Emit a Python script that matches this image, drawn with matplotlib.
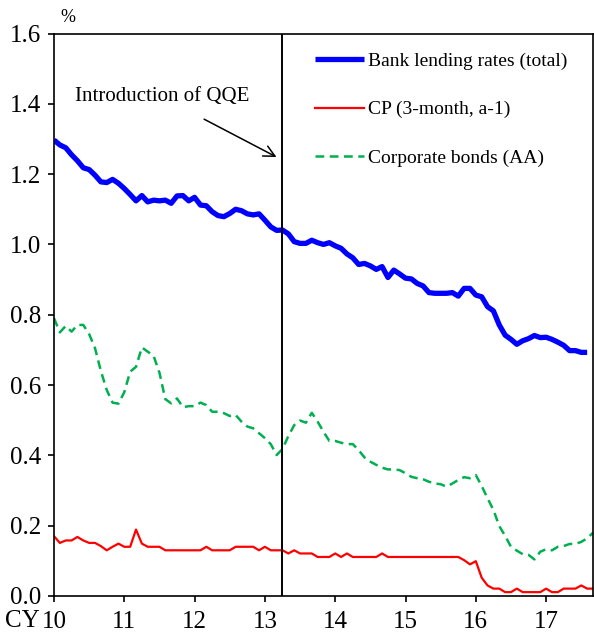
import matplotlib
matplotlib.use("Agg")
import matplotlib.pyplot as plt
import numpy as np

plt.rcParams["font.family"] = ["Liberation Serif", "DejaVu Serif"]

# monthly data, Jan 2010 onward (CY 10.0 = Jan 2010)
bank_lending = [
    1.297, 1.283, 1.275, 1.255, 1.238, 1.218, 1.213, 1.197, 1.178, 1.176,
    1.185, 1.174, 1.159, 1.142, 1.124, 1.139, 1.121, 1.126, 1.124, 1.126,
    1.117, 1.138, 1.139, 1.124, 1.134, 1.112, 1.110, 1.093, 1.082, 1.079,
    1.088, 1.100, 1.096, 1.087, 1.084, 1.087, 1.069, 1.050, 1.040, 1.041,
    1.030, 1.008, 1.003, 1.003, 1.012, 1.005, 1.000, 1.005, 0.996, 0.989,
    0.973, 0.962, 0.943, 0.946, 0.939, 0.929, 0.937, 0.906, 0.927, 0.916,
    0.904, 0.902, 0.889, 0.882, 0.863, 0.861, 0.861, 0.861, 0.863, 0.853,
    0.875, 0.875, 0.856, 0.851, 0.823, 0.811, 0.771, 0.742, 0.730, 0.716,
    0.726, 0.732, 0.741, 0.735, 0.736, 0.730, 0.722, 0.713, 0.698, 0.698,
    0.693, 0.693,
]
cp_3m = [
    0.170, 0.151, 0.158, 0.158, 0.168, 0.158, 0.151, 0.151, 0.142, 0.130,
    0.140, 0.149, 0.140, 0.140, 0.189, 0.149, 0.140, 0.140, 0.140, 0.130,
    0.130, 0.130, 0.130, 0.130, 0.130, 0.130, 0.140, 0.130, 0.130, 0.130,
    0.130, 0.140, 0.140, 0.140, 0.140, 0.130, 0.140, 0.130, 0.130, 0.130,
    0.121, 0.130, 0.121, 0.121, 0.121, 0.111, 0.111, 0.111, 0.121, 0.111,
    0.121, 0.111, 0.111, 0.111, 0.111, 0.111, 0.121, 0.111, 0.111, 0.111,
    0.111, 0.111, 0.111, 0.111, 0.111, 0.111, 0.111, 0.111, 0.111, 0.111,
    0.102, 0.090, 0.099, 0.052, 0.030, 0.021, 0.021, 0.011, 0.011, 0.021,
    0.011, 0.011, 0.011, 0.011, 0.021, 0.011, 0.011, 0.021, 0.021, 0.021,
    0.030, 0.021, 0.021,
]
corp_bonds = [
    0.790, 0.750, 0.768, 0.752, 0.771, 0.771, 0.745, 0.705, 0.640, 0.586,
    0.550, 0.547, 0.580, 0.638, 0.652, 0.707, 0.695, 0.683, 0.635, 0.560,
    0.548, 0.562, 0.537, 0.540, 0.540, 0.550, 0.543, 0.524, 0.524, 0.520,
    0.512, 0.515, 0.496, 0.482, 0.477, 0.463, 0.449, 0.432, 0.401, 0.418,
    0.455, 0.486, 0.499, 0.493, 0.521, 0.496, 0.467, 0.441, 0.441, 0.436,
    0.432, 0.432, 0.415, 0.394, 0.382, 0.373, 0.365, 0.360, 0.360, 0.358,
    0.349, 0.339, 0.335, 0.332, 0.325, 0.320, 0.318, 0.311, 0.320, 0.330,
    0.338, 0.335, 0.344, 0.313, 0.278, 0.245, 0.199, 0.171, 0.140, 0.129,
    0.119, 0.117, 0.104, 0.126, 0.133, 0.130, 0.140, 0.142, 0.148, 0.148,
    0.154, 0.164, 0.180,
]
year_ticks = [10, 11, 12, 13, 14, 15, 16, 17]
qqe_date = 13 + 3 / 12  # April 2013


def months(series):
    return 10 + np.arange(len(series)) / 12


fig = plt.figure(figsize=(5.94, 6.32), dpi=100)
ax = fig.add_axes([54 / 594, 1 - 596 / 632, 539 / 594, 562.5 / 632])

ax.plot(months(bank_lending), bank_lending, color="#0000FF", lw=3.8,
        label="Bank lending rates (total)", solid_capstyle="butt")
ax.plot(months(cp_3m), cp_3m, color="#FF0000", lw=1.6,
        label="CP (3-month, a-1)")
ax.plot(months(corp_bonds), corp_bonds, color="#00B050", lw=1.8,
        dashes=(3.5, 2.2), label="Corporate bonds (AA)")

ax.axvline(qqe_date, color="black", lw=1.4)
ax.annotate("", xy=(qqe_date - 0.05, 1.245), xytext=(12.1, 1.36),
            arrowprops=dict(arrowstyle="->", color="black", lw=1.1,
                            mutation_scale=20))
ax.text(10.3, 1.42, "Introduction of QQE", fontsize=15, va="center",
        ha="left")

ax.set_xlim(10, 17 + 8 / 12)
ax.set_ylim(0, 1.6)
ax.set_xticks(year_ticks)
ax.set_xticklabels([str(y) for y in year_ticks])
ax.set_yticks(np.arange(0, 1.61, 0.2))
ax.set_yticklabels([f"{v:.1f}" for v in np.arange(0, 1.61, 0.2)])
ax.tick_params(labelsize=18, direction="out", length=4.5, width=1.2,
               pad=2.5)
ax.tick_params(axis="x", pad=6)
ax.tick_params(axis="y", pad=5)
for sp in ax.spines.values():
    sp.set_linewidth(1.2)

ax.legend(loc="upper left", frameon=False, fontsize=14,
          handlelength=2.5, handletextpad=0.25, labelspacing=1.6,
          borderpad=0, borderaxespad=0,
          bbox_to_anchor=((315 - 54) / 539, (596 - 52) / 562.5))

fig.text(60 / 594, 1 - 18 / 632, "%", fontsize=13, ha="left", va="center")
fig.text(5 / 594, 1 - 621 / 632, "CY", fontsize=18, ha="left", va="center")

fig.savefig("out.png", dpi=100)
